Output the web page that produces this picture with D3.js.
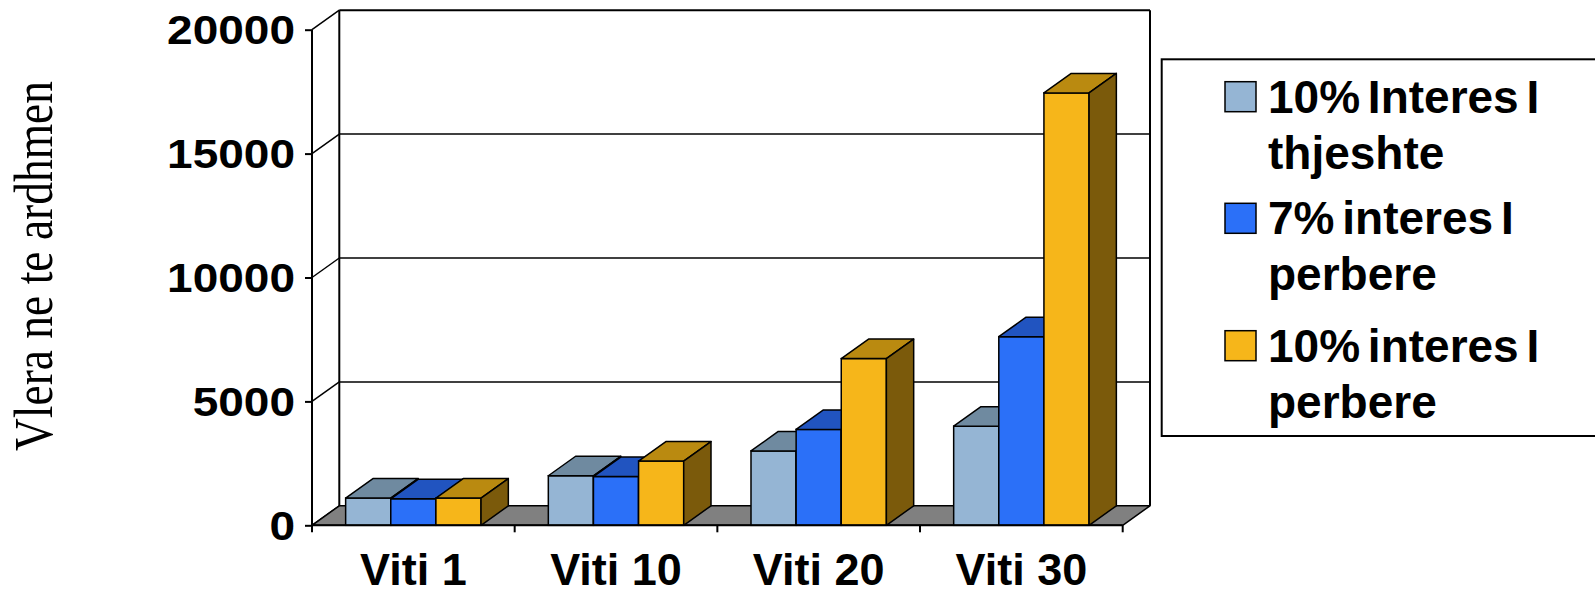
<!DOCTYPE html>
<html>
<head>
<meta charset="utf-8">
<script src="https://cdn.jsdelivr.net/npm/d3@7"></script>
<style>
html,body{margin:0;padding:0;background:#fff;}
svg{display:block;}
</style>
</head>
<body>
<svg id="chart" width="1595" height="596"></svg>
<script>
// ---- data ----
const categories = ["Viti 1", "Viti 10", "Viti 20", "Viti 30"];
const seriesNames = ["10% Interes I thjeshte", "7% interes I perbere", "10% interes I perbere"];
const legendLines = [["10% Interes I", "thjeshte"], ["7% interes I", "perbere"], ["10% interes I", "perbere"]];
const simple10 = [1100, 2000, 3000, 4000];
const compound7 = [1070, 1967, 3870, 7612];
const compound10 = [1100, 2594, 6727, 17449];
const yTicks = [0, 5000, 10000, 15000, 20000];
const yTitle = "Vlera ne te ardhmen";

const seriesValues = [simple10, compound7, compound10];
const frontColors = ["#95B5D4", "#2B70F8", "#F6B61A"];
const topColors = ["#6F8AA0", "#2154C0", "#BA8A10"];
const sideColors = ["#4E6274", "#173C8C", "#7B5A0B"];

const svg = d3.select("#chart");
const DX = 27.3, DY = -19.5;
const xLeft = 312, xRight = 1122.7;
const y = d3.scaleLinear().domain([0, 20000]).range([525.3, 29.7]);
const x0 = d3.scaleBand().domain(categories).range([xLeft, xRight]).padding(0);
const gap = x0.bandwidth() * 0.166;
const x1 = d3.scaleBand().domain(d3.range(seriesNames.length)).range([gap, x0.bandwidth() - gap]).padding(0);

const g = svg.append("g");

// back wall
g.append("rect").attr("x", xLeft + DX).attr("y", y(20000) + DY)
  .attr("width", xRight - xLeft).attr("height", y(0) - y(20000))
  .attr("fill", "#fff");
// left side wall diagonals + gridlines
yTicks.forEach(t => {
  if (t > 0) {
    g.append("line").attr("x1", xLeft + DX).attr("x2", xRight + DX)
      .attr("y1", y(t) + DY).attr("y2", y(t) + DY)
      .attr("stroke", "#000").attr("stroke-width", t === 20000 ? 2 : 1.5);
  }
  g.append("line").attr("x1", xLeft).attr("y1", y(t)).attr("x2", xLeft + DX).attr("y2", y(t) + DY)
    .attr("stroke", "#000").attr("stroke-width", 1.5);
});
// back wall vertical edges
[xLeft + DX, xRight + DX].forEach(xx => {
  g.append("line").attr("x1", xx).attr("x2", xx).attr("y1", y(20000) + DY).attr("y2", y(0) + DY)
    .attr("stroke", "#000").attr("stroke-width", 2);
});

// floor
const floorPts = [[xLeft, y(0)], [xRight, y(0)], [xRight + DX, y(0) + DY], [xLeft + DX, y(0) + DY]];
g.append("polygon").attr("points", floorPts.map(p => p.join(",")).join(" "))
  .attr("fill", "#808080").attr("stroke", "#000").attr("stroke-width", 1.5).attr("stroke-linejoin", "round");

// front y-axis line
g.append("line").attr("x1", xLeft).attr("x2", xLeft).attr("y1", y(20000)).attr("y2", y(0))
  .attr("stroke", "#000").attr("stroke-width", 2);

// y axis ticks + labels via d3 axis
const yAxis = d3.axisLeft(y).tickValues(yTicks).tickSize(7).tickFormat(d3.format("d"));
const ya = g.append("g").attr("transform", `translate(${xLeft},0)`).call(yAxis);
ya.select(".domain").remove();
ya.selectAll(".tick line").attr("stroke", "#000").attr("stroke-width", 2);
ya.selectAll(".tick text").remove();
yTicks.forEach(t => {
  g.append("text")
    .attr("transform", `translate(295,${y(t) + 14.3}) scale(1.15,1)`)
    .attr("text-anchor", "end")
    .attr("font-family", "Liberation Sans, Arial, sans-serif")
    .attr("font-weight", "bold").attr("font-size", 40).attr("fill", "#000")
    .text(d3.format("d")(t));
});

// bars
categories.forEach((c, ci) => {
  seriesValues.forEach((vals, si) => {
    const v = vals[ci];
    const bx = x0(c) + x1(si), bw = x1.bandwidth();
    const yb = y(0), yt = y(v);
    const bg = g.append("g");
    bg.append("rect").attr("x", bx).attr("y", yt).attr("width", bw).attr("height", yb - yt)
      .attr("fill", frontColors[si]).attr("stroke", "#000").attr("stroke-width", 1.5);
    const top = [[bx, yt], [bx + DX, yt + DY], [bx + bw + DX, yt + DY], [bx + bw, yt]];
    bg.append("polygon").attr("points", top.map(p => p.join(",")).join(" "))
      .attr("fill", topColors[si]).attr("stroke", "#000").attr("stroke-width", 1.5).attr("stroke-linejoin", "round");
    const side = [[bx + bw, yb], [bx + bw, yt], [bx + bw + DX, yt + DY], [bx + bw + DX, yb + DY]];
    bg.append("polygon").attr("points", side.map(p => p.join(",")).join(" "))
      .attr("fill", sideColors[si]).attr("stroke", "#000").attr("stroke-width", 1.5).attr("stroke-linejoin", "round");
  });
});

// x axis front line + ticks
g.append("line").attr("x1", xLeft).attr("x2", xRight).attr("y1", y(0)).attr("y2", y(0))
  .attr("stroke", "#000").attr("stroke-width", 2);
const xTickPos = categories.map(c => x0(c)).concat([xRight]);
xTickPos.forEach(xx => {
  g.append("line").attr("x1", xx).attr("x2", xx).attr("y1", y(0)).attr("y2", y(0) + 7)
    .attr("stroke", "#000").attr("stroke-width", 2);
});
categories.forEach(c => {
  g.append("text").attr("x", x0(c) + x0.bandwidth() / 2).attr("y", 585)
    .attr("text-anchor", "middle")
    .attr("font-family", "Liberation Sans, Arial, sans-serif")
    .attr("font-weight", "bold").attr("font-size", 45).attr("fill", "#000")
    .text(c);
});

// y title
g.append("text")
  .attr("transform", "translate(51.7,266) rotate(-90) scale(1,1.2)")
  .attr("text-anchor", "middle")
  .attr("font-family", "Liberation Serif, Times New Roman, serif")
  .attr("font-size", 45.5).attr("fill", "#000")
  .text(yTitle);

// legend
const lg = svg.append("g");
lg.append("rect").attr("x", 1161.7).attr("y", 59.3).attr("width", 460).attr("height", 376.7)
  .attr("fill", "#fff").attr("stroke", "#000").attr("stroke-width", 2);
const legendBase = [112.7, 234.3, 361.7];
legendLines.forEach((lines, i) => {
  lg.append("rect").attr("x", 1225).attr("y", legendBase[i] - 31).attr("width", 31).attr("height", 30)
    .attr("fill", frontColors[i]).attr("stroke", "#000").attr("stroke-width", 1.5);
  lines.forEach((ln, j) => {
    lg.append("text").attr("x", 1268).attr("y", legendBase[i] + j * 56)
      .attr("font-family", "Liberation Sans, Arial, sans-serif")
      .attr("font-weight", "bold").attr("font-size", 46).attr("fill", "#000")
      .attr("word-spacing", -5)
      .text(ln);
  });
});
</script>
</body>
</html>
